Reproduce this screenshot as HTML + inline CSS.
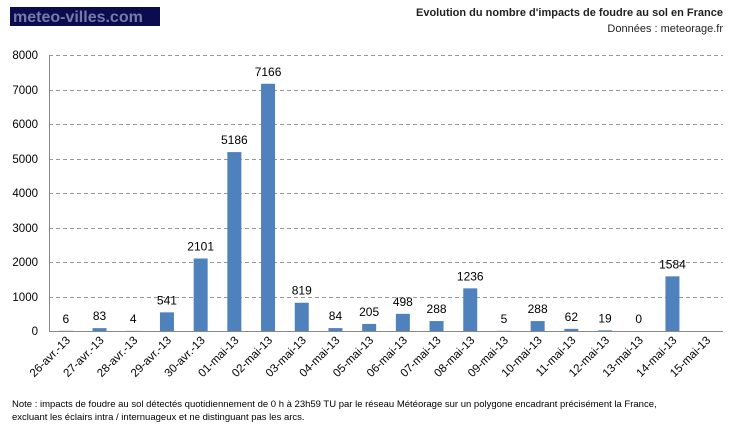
<!DOCTYPE html>
<html><head><meta charset="utf-8"><style>
html,body{margin:0;padding:0;background:#fff;}
svg{display:block;font-family:"Liberation Sans",sans-serif;}
</style></head><body>
<svg width="729" height="434" xmlns="http://www.w3.org/2000/svg">
<rect x="10" y="7" width="150" height="19" fill="#0b0b4f"/>
<text x="13" y="22" font-size="16" font-weight="bold" fill="#767ba8">meteo-villes.com</text>
<text x="723" y="16" font-size="11" font-weight="bold" text-anchor="end" fill="#222">Evolution du nombre d'impacts de foudre au sol en France</text>
<text x="723" y="32" font-size="11" text-anchor="end" fill="#222">Données : meteorage.fr</text>
<g stroke="#999" stroke-dasharray="4,3" stroke-width="1">
<line x1="49" x2="723" y1="55.5" y2="55.5"/>
<line x1="49" x2="723" y1="90.5" y2="90.5"/>
<line x1="49" x2="723" y1="124.5" y2="124.5"/>
<line x1="49" x2="723" y1="159.5" y2="159.5"/>
<line x1="49" x2="723" y1="193.5" y2="193.5"/>
<line x1="49" x2="723" y1="228.5" y2="228.5"/>
<line x1="49" x2="723" y1="262.5" y2="262.5"/>
<line x1="49" x2="723" y1="297.5" y2="297.5"/>
</g>
<g font-size="11.5" fill="#000" text-anchor="end">
<text x="38" y="59">8000</text><text x="38" y="94">7000</text><text x="38" y="128">6000</text>
<text x="38" y="163">5000</text><text x="38" y="197">4000</text><text x="38" y="232">3000</text>
<text x="38" y="266">2000</text><text x="38" y="301">1000</text><text x="38" y="335">0</text>
</g>
<g id="bars" fill="#4f81bd"></g>
<g id="vals" font-size="12" text-anchor="middle" fill="#000"></g>
<g id="labs" font-size="11.5" text-anchor="end" fill="#000"></g>
<line x1="49.5" y1="55" x2="49.5" y2="332" stroke="#888"/>
<line x1="49" y1="331.5" x2="723" y2="331.5" stroke="#888"/>
<text x="12" y="407" font-size="9.5" fill="#000">Note : impacts de foudre au sol détectés quotidiennement de 0 h à 23h59 TU par le réseau Météorage sur un polygone encadrant précisément la France,</text>
<text x="12" y="420" font-size="9.5" fill="#000">excluant les éclairs intra / internuageux et ne distinguant pas les arcs.</text>
<script>
var v=[6,83,4,541,2101,5186,7166,819,84,205,498,288,1236,5,288,62,19,0,1584,null];
var l=["26-avr.-13","27-avr.-13","28-avr.-13","29-avr.-13","30-avr.-13","01-mai-13","02-mai-13","03-mai-13","04-mai-13","05-mai-13","06-mai-13","07-mai-13","08-mai-13","09-mai-13","10-mai-13","11-mai-13","12-mai-13","13-mai-13","14-mai-13","15-mai-13"];
var ns="http://www.w3.org/2000/svg",b=document.getElementById("bars"),t=document.getElementById("vals"),g=document.getElementById("labs");
for(var i=0;i<20;i++){var c=49+33.7*(i+0.5);
if(v[i]!==null){var h=v[i]*0.0345,r=document.createElementNS(ns,"rect");
r.setAttribute("x",c-7);r.setAttribute("y",331-h);r.setAttribute("width",14);r.setAttribute("height",h);b.appendChild(r);
var x=document.createElementNS(ns,"text");x.setAttribute("x",c);x.setAttribute("y",331-h-8);x.textContent=v[i];t.appendChild(x);}
var y=document.createElementNS(ns,"text");y.setAttribute("transform","translate("+(c+5)+",341) rotate(-45)");y.textContent=l[i];g.appendChild(y);}
</script>
</svg>
</body></html>
